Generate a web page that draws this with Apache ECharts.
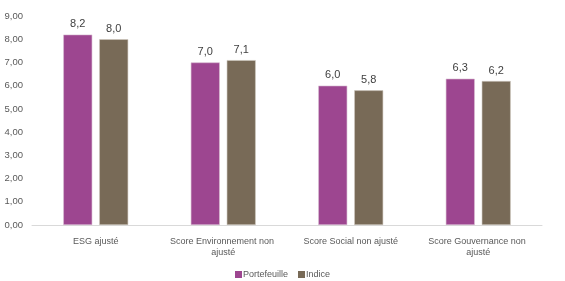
<!DOCTYPE html>
<html><head><meta charset="utf-8">
<script src="https://cdn.jsdelivr.net/npm/echarts@6/dist/echarts.min.js"></script>
<style>html,body{margin:0;padding:0;background:#fff}#c{width:565px;height:281px}</style>
</head><body><div id="c"></div>
<script>
var categories = ['ESG ajusté', 'Score Environnement non ajusté', 'Score Social non ajusté', 'Score Gouvernance non ajusté'];
var portefeuille = [8.2, 7.0, 6.0, 6.3];
var indice = [8.0, 7.1, 5.8, 6.2];
var seriesNames = ['Portefeuille', 'Indice'];
var fmt = function (v, d) { return v.toFixed(d).replace('.', ','); };
var chart = echarts.init(document.getElementById('c'));
var font = 'Liberation Sans, Arial, sans-serif';
chart.setOption({
  animation: false,
  grid: { left: 32, right: 23, top: 16, bottom: 56 },
  legend: {
    bottom: -3, left: 'center', itemWidth: 7, itemHeight: 7, itemGap: 10,
    icon: 'rect',
    itemStyle: { borderWidth: 0 },
    textStyle: { fontSize: 9, color: '#595959', fontFamily: font, padding: [0, 0, 0, -4] },
    data: seriesNames
  },
  xAxis: {
    type: 'category', data: categories,
    axisLine: { lineStyle: { color: '#d9d9d9' } },
    axisTick: { show: false },
    axisLabel: { fontSize: 9, color: '#595959', fontFamily: font, interval: 0, width: 118, overflow: 'break', margin: 11, lineHeight: 11 }
  },
  yAxis: {
    type: 'value', min: 0, max: 9, interval: 1,
    splitLine: { show: false },
    axisLine: { show: false }, axisTick: { show: false },
    axisLabel: { fontSize: 9.5, color: '#595959', fontFamily: font, margin: 9, formatter: function (v) { return fmt(v, 2); } }
  },
  series: [
    { name: seriesNames[0], type: 'bar', data: portefeuille, barWidth: 29, barGap: '24%',
      itemStyle: { color: '#9d4690', borderColor: '#d8bcd2', borderWidth: 0.6 },
      label: { show: true, position: 'top', distance: 5, fontSize: 11, color: '#404040', fontFamily: font, formatter: function (p) { return fmt(p.value, 1); } } },
    { name: seriesNames[1], type: 'bar', data: indice, barWidth: 29,
      itemStyle: { color: '#786a57', borderColor: '#cfc8bf', borderWidth: 0.6 },
      label: { show: true, position: 'top', distance: 5, fontSize: 11, color: '#404040', fontFamily: font, formatter: function (p) { return fmt(p.value, 1); } } }
  ]
});
</script></body></html>
